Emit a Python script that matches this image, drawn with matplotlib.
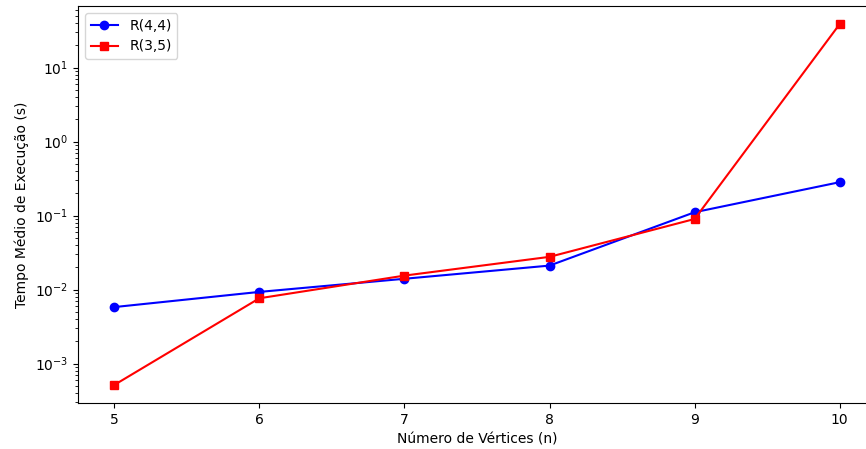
import matplotlib.pyplot as plt

vertices = [5, 6, 7, 8, 9, 10]
tempo_r44 = [0.0058, 0.0093, 0.0140, 0.0211, 0.111, 0.283]
tempo_r35 = [0.000514, 0.00763, 0.01545, 0.0277, 0.090, 38.8]

fig = plt.figure(figsize=(8.66, 4.49), dpi=100)
# the original figure was cropped on the right, so the axes run past the edge
ax = fig.add_axes([78 / 866, 46 / 449, 798 / 866, 397 / 449])

ax.plot(vertices, tempo_r44, color='blue', marker='o', label='R(4,4)')
ax.plot(vertices, tempo_r35, color='red', marker='s', label='R(3,5)')

ax.set_yscale('log')
ax.set_xlabel('Número de Vértices (n)')
ax.set_ylabel('Tempo Médio de Execução (s)')
ax.legend(loc='upper left')
# right spine lies outside the cropped picture
ax.spines['right'].set_visible(False)

fig.savefig('out.png', dpi=100)
